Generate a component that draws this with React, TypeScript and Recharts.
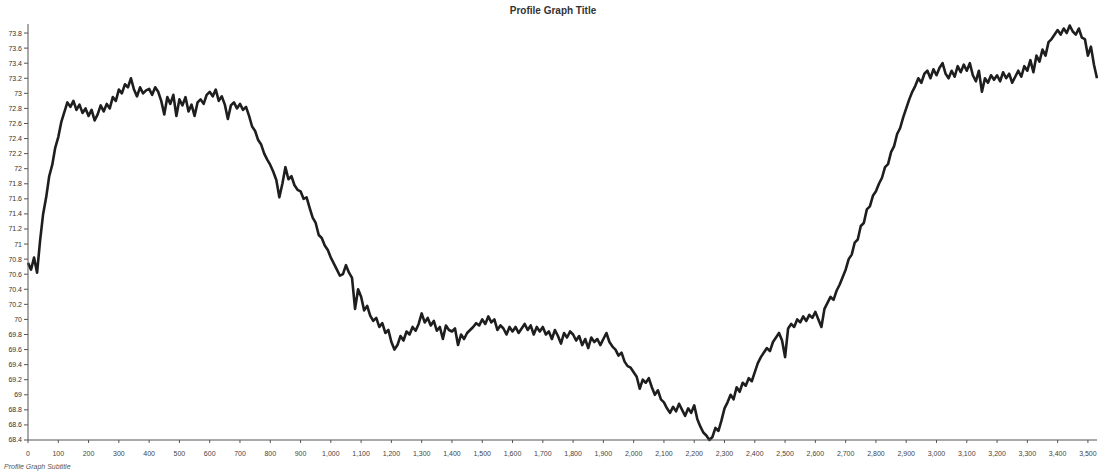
import { LineChart, Line, XAxis, YAxis } from 'recharts'

const title = 'Profile Graph Title'
const subtitle = 'Profile Graph Subtitle'

// one reading every 10 units along the profile
const step = 10
const profile = [
  70.75, 70.66, 70.82, 70.62, 71.05, 71.4, 71.62, 71.9, 72.05, 72.28,
  72.42, 72.62, 72.75, 72.88, 72.82, 72.9, 72.78, 72.85, 72.74, 72.8,
  72.7, 72.78, 72.64, 72.72, 72.84, 72.76, 72.86, 72.8, 72.95, 72.9,
  73.05, 73.0, 73.12, 73.08, 73.2, 73.05, 72.96, 73.08, 73.0, 73.04,
  73.06, 72.98, 73.08, 73.02, 72.9, 72.72, 72.95, 72.86, 72.98, 72.7,
  72.92, 72.84, 72.95, 72.76, 72.85, 72.7, 72.88, 72.92, 72.86, 72.98,
  73.02, 72.96, 73.05, 72.9, 72.96, 72.85, 72.66, 72.84, 72.88, 72.8,
  72.86, 72.78, 72.82, 72.7, 72.56, 72.5, 72.38, 72.32, 72.2, 72.12,
  72.05, 71.96, 71.85, 71.62, 71.8, 72.02, 71.86, 71.9, 71.78, 71.72,
  71.7, 71.6, 71.62, 71.48, 71.35, 71.28, 71.12, 71.08, 70.98, 70.92,
  70.82, 70.74, 70.66, 70.58, 70.6, 70.72, 70.62, 70.55, 70.14, 70.4,
  70.3, 70.12, 70.18, 70.05, 69.98, 70.02, 69.9, 69.95, 69.82, 69.86,
  69.7, 69.6, 69.66, 69.78, 69.72, 69.84, 69.8, 69.9, 69.85, 69.94,
  70.08, 69.96, 70.02, 69.92, 69.98, 69.85, 69.9, 69.74, 69.92, 69.86,
  69.84, 69.88, 69.66, 69.8, 69.74, 69.82, 69.86, 69.9, 69.95, 69.92,
  70.0, 69.94, 70.04, 69.96, 70.0, 69.86, 69.92, 69.88, 69.8, 69.9,
  69.84, 69.9, 69.82, 69.88, 69.94, 69.86, 69.92, 69.8, 69.9, 69.84,
  69.9, 69.8, 69.84, 69.74, 69.86, 69.78, 69.68, 69.82, 69.76, 69.84,
  69.8, 69.72, 69.78, 69.66, 69.74, 69.62, 69.76, 69.7, 69.74, 69.66,
  69.74, 69.82, 69.7, 69.64, 69.6, 69.52, 69.56, 69.44, 69.38, 69.36,
  69.3, 69.24, 69.08, 69.2, 69.16, 69.22, 69.1, 69.0, 69.06, 68.94,
  68.9, 68.82, 68.76, 68.84, 68.78, 68.88, 68.8, 68.72, 68.82, 68.76,
  68.86, 68.68, 68.58, 68.5, 68.46, 68.4, 68.44, 68.56, 68.52, 68.66,
  68.82, 68.9, 69.0, 68.94, 69.1, 69.04, 69.16, 69.12, 69.22, 69.18,
  69.3, 69.42, 69.5, 69.56, 69.62, 69.58, 69.7, 69.76, 69.82, 69.72,
  69.5, 69.88, 69.94, 69.9, 70.0, 69.96, 70.04, 69.98, 70.06, 70.02,
  70.1, 70.0, 69.9, 70.14, 70.22, 70.3, 70.26, 70.38, 70.46, 70.56,
  70.66, 70.8, 70.86, 71.02, 71.06, 71.24, 71.28, 71.46, 71.5, 71.64,
  71.7, 71.8, 71.88, 72.02, 72.06, 72.22, 72.3, 72.46, 72.54, 72.68,
  72.8, 72.92, 73.02, 73.1, 73.2, 73.14, 73.26, 73.3, 73.2, 73.32,
  73.24, 73.34, 73.4, 73.26, 73.2, 73.3, 73.22, 73.36, 73.28, 73.38,
  73.3, 73.4, 73.24, 73.16, 73.3, 73.02, 73.2, 73.14, 73.24, 73.18,
  73.24, 73.16, 73.28, 73.2, 73.26, 73.14, 73.22, 73.3, 73.22, 73.36,
  73.3, 73.44, 73.28, 73.5, 73.42, 73.58, 73.5, 73.68, 73.72, 73.78,
  73.84, 73.78, 73.86, 73.8, 73.9, 73.82, 73.78, 73.86, 73.74, 73.72,
  73.5, 73.62, 73.38, 73.2,
]

const xTicks = [
  0, 100, 200, 300, 400, 500, 600, 700, 800, 900,
  1000, 1100, 1200, 1300, 1400, 1500, 1600, 1700, 1800, 1900,
  2000, 2100, 2200, 2300, 2400, 2500, 2600, 2700, 2800, 2900,
  3000, 3100, 3200, 3300, 3400, 3500,
]

const yTicks = [
  68.4, 68.6, 68.8, 69, 69.2, 69.4, 69.6, 69.8, 70, 70.2, 70.4, 70.6, 70.8, 71,
  71.2, 71.4, 71.6, 71.8, 72, 72.2, 72.4, 72.6, 72.8, 73, 73.2, 73.4, 73.6, 73.8,
]

const data = profile.map((value, i) => ({ distance: i * step, value }))

const font = '"Liberation Sans", Arial, sans-serif'

export default function App() {
  return (
    <div
      style={{
        position: 'absolute',
        left: 0,
        top: 0,
        width: 1098,
        height: 475,
        background: '#fff',
        fontFamily: font,
      }}
    >
      <div
        style={{
          position: 'absolute',
          top: 5,
          left: 0,
          width: 1106,
          textAlign: 'center',
          fontSize: 10,
          fontWeight: 'bold',
          color: '#333',
        }}
      >
        {title}
      </div>

      <LineChart
        width={1098}
        height={475}
        data={data}
        margin={{ top: 24, right: 1, left: 0, bottom: 15 }}
      >
        <XAxis
          dataKey="distance"
          type="number"
          domain={[0, 3530]}
          ticks={xTicks}
          interval={0}
          height={20}
          tickSize={3}
          tickMargin={8}
          tick={{ fontSize: 7, fill: '#444', fontFamily: font }}
          tickFormatter={(v: number) => v.toLocaleString('en-US')}
          stroke="#555"
        />
        <YAxis
          dataKey="value"
          type="number"
          domain={[68.4, 73.92]}
          ticks={yTicks}
          interval={0}
          width={28}
          tickSize={4}
          tick={{ fontSize: 7, fill: '#333', fontFamily: font }}
          tickFormatter={(v: number) => String(Math.round(v * 10) / 10)}
          stroke="#555"
        />
        <Line
          type="linear"
          dataKey="value"
          stroke="#1e1e1e"
          strokeWidth={2.6}
          strokeLinejoin="round"
          dot={false}
          isAnimationActive={false}
        />
      </LineChart>

      <div
        style={{
          position: 'absolute',
          left: 4,
          top: 463,
          fontSize: 7,
          fontStyle: 'italic',
          color: '#555',
        }}
      >
        {subtitle}
      </div>
    </div>
  )
}
